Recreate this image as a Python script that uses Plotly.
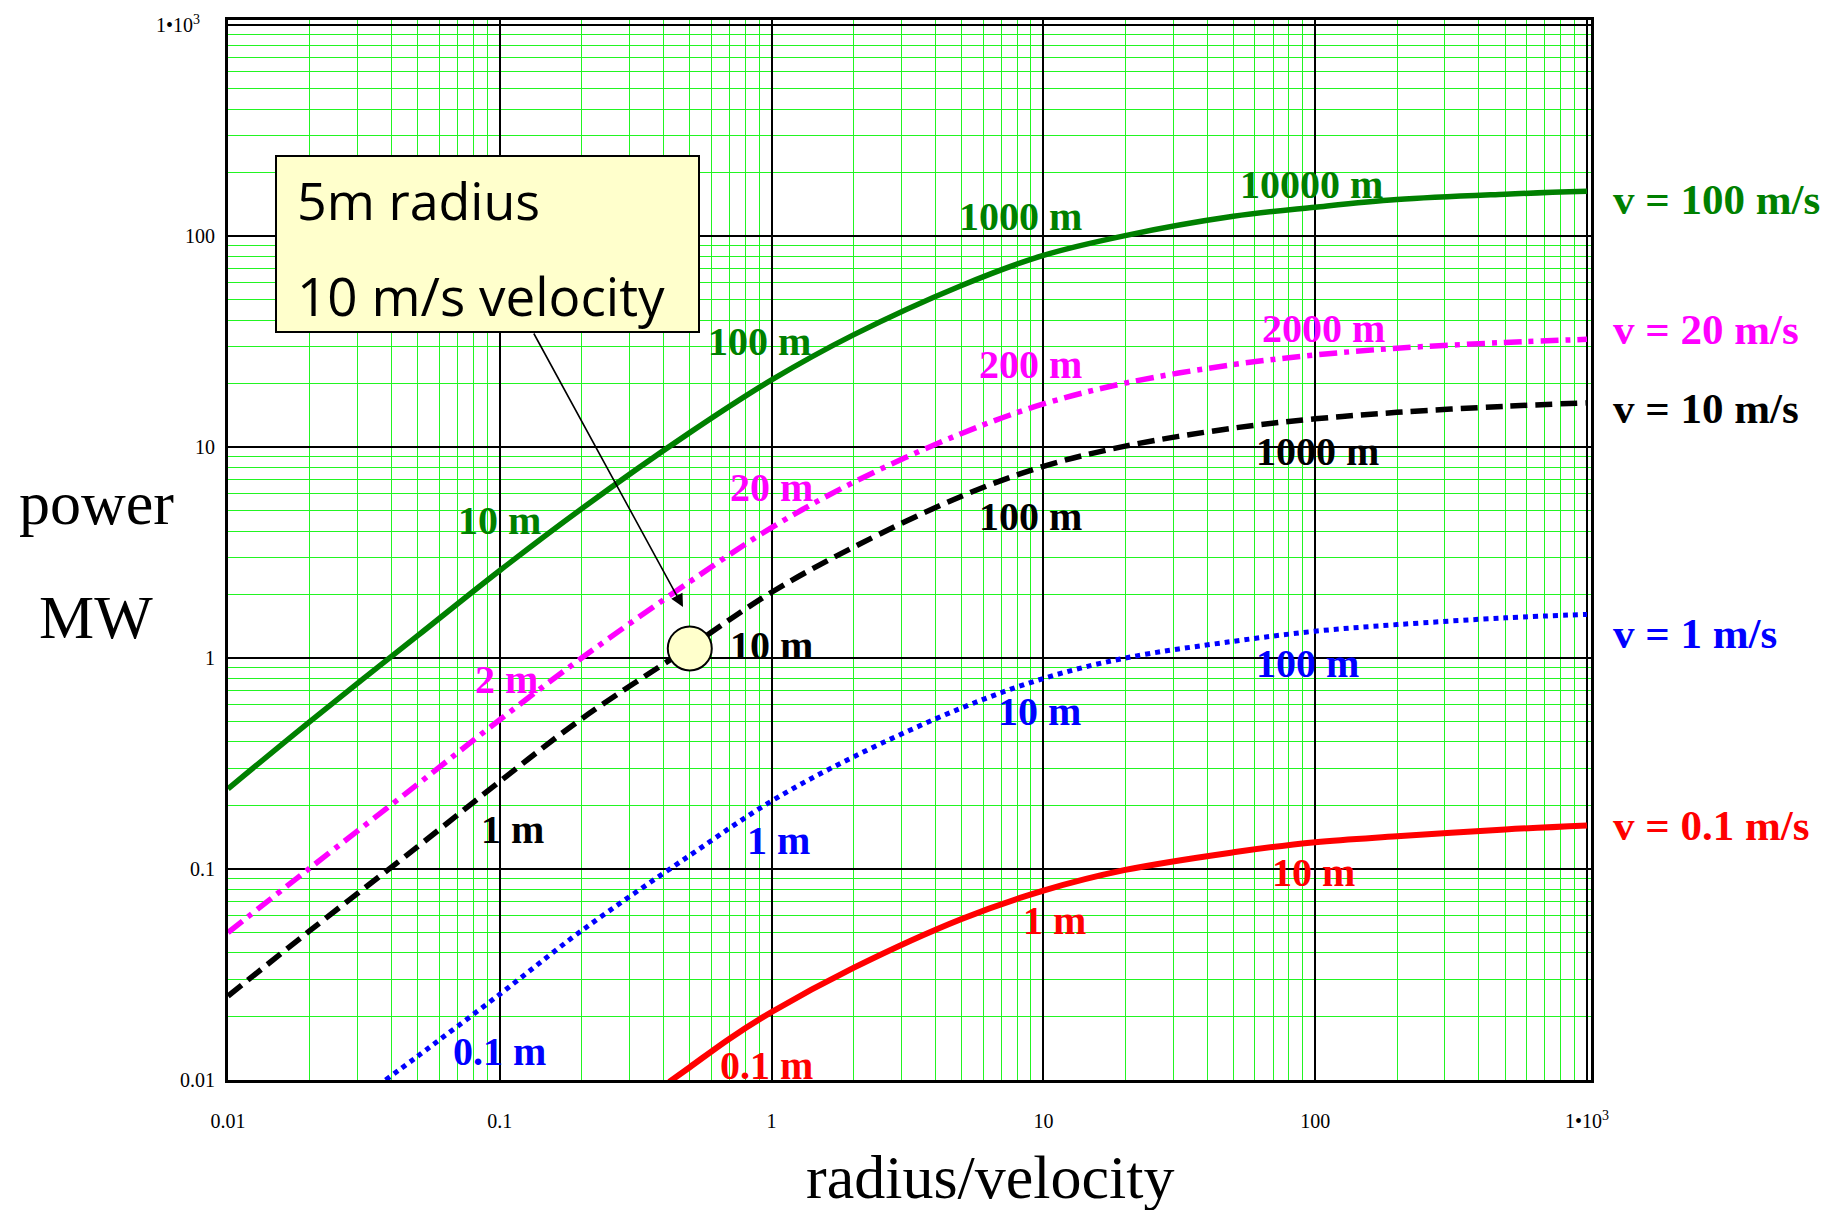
import plotly.graph_objects as go

# ---------------- data ----------------
x_main = [0.01, 0.02, 0.05, 0.1, 0.2, 0.5, 1, 2, 5, 10, 20, 50, 100, 200, 500, 1000]
p_v100 = [0.24, 0.50, 1.28, 2.6, 5.1, 11.7, 20.8, 34, 58.3, 81, 100.5, 124, 137, 149, 158, 163]
p_v20 = [0.050, 0.101, 0.253, 0.51, 1.0, 2.3, 4.15, 6.8, 11.6, 16.0, 20.1, 24.6, 27.3, 29.4, 31.3, 32.4]
p_v10 = [0.025, 0.051, 0.128, 0.26, 0.515, 1.13, 2.05, 3.35, 5.85, 8.1, 10.1, 12.3, 13.6, 14.6, 15.6, 16.2]

x_v1 = [0.038, 0.05, 0.1, 0.2, 0.5, 1, 2, 5, 10, 20, 50, 100, 200, 500, 1000]
p_v1 = [0.010, 0.0130, 0.0255, 0.051, 0.116, 0.21, 0.34, 0.58, 0.80, 1.0, 1.2, 1.34, 1.44, 1.55, 1.61]

x_v01 = [0.42, 0.5, 0.7, 1, 2, 5, 10, 20, 50, 100, 200, 500, 1000]
p_v01 = [0.0098, 0.0115, 0.0157, 0.021, 0.034, 0.058, 0.079, 0.099, 0.12, 0.134, 0.143, 0.154, 0.161]

tick_vals = [0.01, 0.1, 1, 10, 100, 1000]
x_tick_text = ["0.01", "0.1", "1", "10", "100", "1\u202210<sup>3</sup>"]
y_tick_text = ["0.01", "0.1", "1", "10", "100", "1\u202210<sup>3</sup>\u00a0\u00a0\u00a0"]
minor_vals = [m * 10.0 ** e for e in range(-2, 3) for m in range(2, 10)]

series_names = ["v = 100 m/s", "v = 20 m/s", "v = 10 m/s", "v = 1 m/s", "v = 0.1 m/s"]
series_colors = ["#008000", "#FF00FF", "#000000", "#0000FF", "#FF0000"]

# radius labels along the curves: (text, log10 x, log10 y)
labels_v100 = [("10000 m", 1.988, 2.246), ("1000 m", 0.914, 2.095), ("100 m", -0.046, 1.498), ("10 m", -1.0, 0.654)]
labels_v20 = [("2000 m", 2.032, 1.564), ("200 m", 0.954, 1.391), ("20 m", -0.002, 0.810), ("2 m", -0.974, -0.100)]
labels_v10 = [("1000 m", 2.007, 0.981), ("100 m", 0.954, 0.673), ("10 m", 0.0, 0.059), ("1 m", -0.955, -0.815)]
labels_v1 = [("100 m", 1.970, -0.028), ("10 m", 0.987, -0.254), ("1 m", 0.027, -0.867), ("0.1 m", -1.0, -1.863)]
labels_v01 = [("10 m", 1.992, -1.017), ("1 m", 1.039, -1.246), ("0.1 m", -0.017, -1.929)]

# right-hand series labels, log10 y
series_label_y = [2.175, 1.555, 1.185, 0.114, -0.796]

# highlighted point: 5 m radius, 10 m/s
point_x = [0.5]
point_y = [1.11]

# ---------------- figure ----------------
W, H = 1837, 1210
L, R, T, B = 228, 246, 20, 130
PW, PH = W - L - R, H - T - B

def px_x(px):
    return (px - L) / PW

def px_y(py):
    return (H - B - py) / PH

serif = "Liberation Serif"
fig = go.Figure()

styles = [
    dict(width=5.5, dash="solid"),
    dict(width=5.5, dash="18px,7px,5px,7px"),
    dict(width=5.5, dash="17px,8px"),
    dict(width=5, dash="5px,5px"),
    dict(width=6, dash="solid"),
]
xs = [x_main, x_main, x_main, x_v1, x_v01]
ys = [p_v100, p_v20, p_v10, p_v1, p_v01]
for name, col, st, xx, yy in zip(series_names, series_colors, styles, xs, ys):
    fig.add_trace(go.Scatter(
        x=xx, y=yy, mode="lines", name=name,
        line=dict(color=col, width=st["width"], dash=st["dash"], shape="spline", smoothing=1.0),
        showlegend=False, hoverinfo="skip"))

fig.add_trace(go.Scatter(
    x=point_x, y=point_y, mode="markers", showlegend=False, hoverinfo="skip",
    marker=dict(size=44, color="#FFFFCC", line=dict(color="black", width=2))))

ann = []
for labs, col in zip([labels_v100, labels_v20, labels_v10, labels_v1, labels_v01], series_colors):
    for text, lx, ly in labs:
        ann.append(dict(x=lx, y=ly, xref="x", yref="y", text="<b>%s</b>" % text, showarrow=False,
                        font=dict(family=serif, size=40, color=col), xanchor="center", yanchor="middle"))

for name, col, ly in zip(series_names, series_colors, series_label_y):
    ann.append(dict(x=px_x(1611), y=ly, xref="paper", yref="y", text="<b>%s</b>" % name, showarrow=False,
                    font=dict(family=serif, size=43, color=col), xanchor="left", yanchor="middle"))

# axis titles
ann.append(dict(x=px_x(96), y=px_y(503), xref="paper", yref="paper", text="power", showarrow=False,
                font=dict(family=serif, size=62, color="black"), xanchor="center", yanchor="middle"))
ann.append(dict(x=px_x(96), y=px_y(617), xref="paper", yref="paper", text="MW", showarrow=False,
                font=dict(family=serif, size=62, color="black"), xanchor="center", yanchor="middle"))
ann.append(dict(x=px_x(990), y=px_y(1177), xref="paper", yref="paper", text="radius/velocity", showarrow=False,
                font=dict(family=serif, size=62, color="black"), xanchor="center", yanchor="middle"))

# callout box text
ann.append(dict(x=px_x(295), y=px_y(199), xref="paper", yref="paper", text="5m radius", showarrow=False,
                font=dict(family="Open Sans", size=52, color="black"), xanchor="left", yanchor="middle"))
ann.append(dict(x=px_x(295), y=px_y(295), xref="paper", yref="paper", text="10 m/s velocity", showarrow=False,
                font=dict(family="Open Sans", size=53, color="black"), xanchor="left", yanchor="middle"))
# arrow
ann.append(dict(x=px_x(683), y=px_y(607), xref="paper", yref="paper", text="", showarrow=True,
                ax=533 - 683, ay=332 - 607, axref="pixel", ayref="pixel",
                arrowhead=2, arrowsize=1.6, arrowwidth=1.6, arrowcolor="black", standoff=0))

shapes = [dict(type="rect", xref="paper", yref="paper", x0=px_x(276), x1=px_x(699), y0=px_y(332), y1=px_y(156),
               fillcolor="#FFFFCC", line=dict(color="black", width=2), layer="above")]

axis_common = dict(
    type="log", showline=True, mirror=True, linecolor="black", linewidth=3,
    showgrid=True, gridcolor="black", gridwidth=1.6, zeroline=False,
    tickmode="array", tickvals=tick_vals, ticks="",
    tickfont=dict(family=serif, size=20, color="black"),
    minor=dict(tickmode="array", tickvals=minor_vals, showgrid=True, gridcolor="#22F522", gridwidth=1, ticks=""),
)

fig.update_layout(
    width=W, height=H, autosize=False,
    margin=dict(l=L, r=R, t=T, b=B, pad=0),
    paper_bgcolor="white", plot_bgcolor="white",
    xaxis=dict(axis_common, range=[-2, 3.0147], ticktext=x_tick_text, ticklabelstandoff=21),
    yaxis=dict(axis_common, range=[-2, 3.024], ticktext=y_tick_text, ticklabelstandoff=6),
    annotations=ann, shapes=shapes,
)

fig.write_html("out.html")
